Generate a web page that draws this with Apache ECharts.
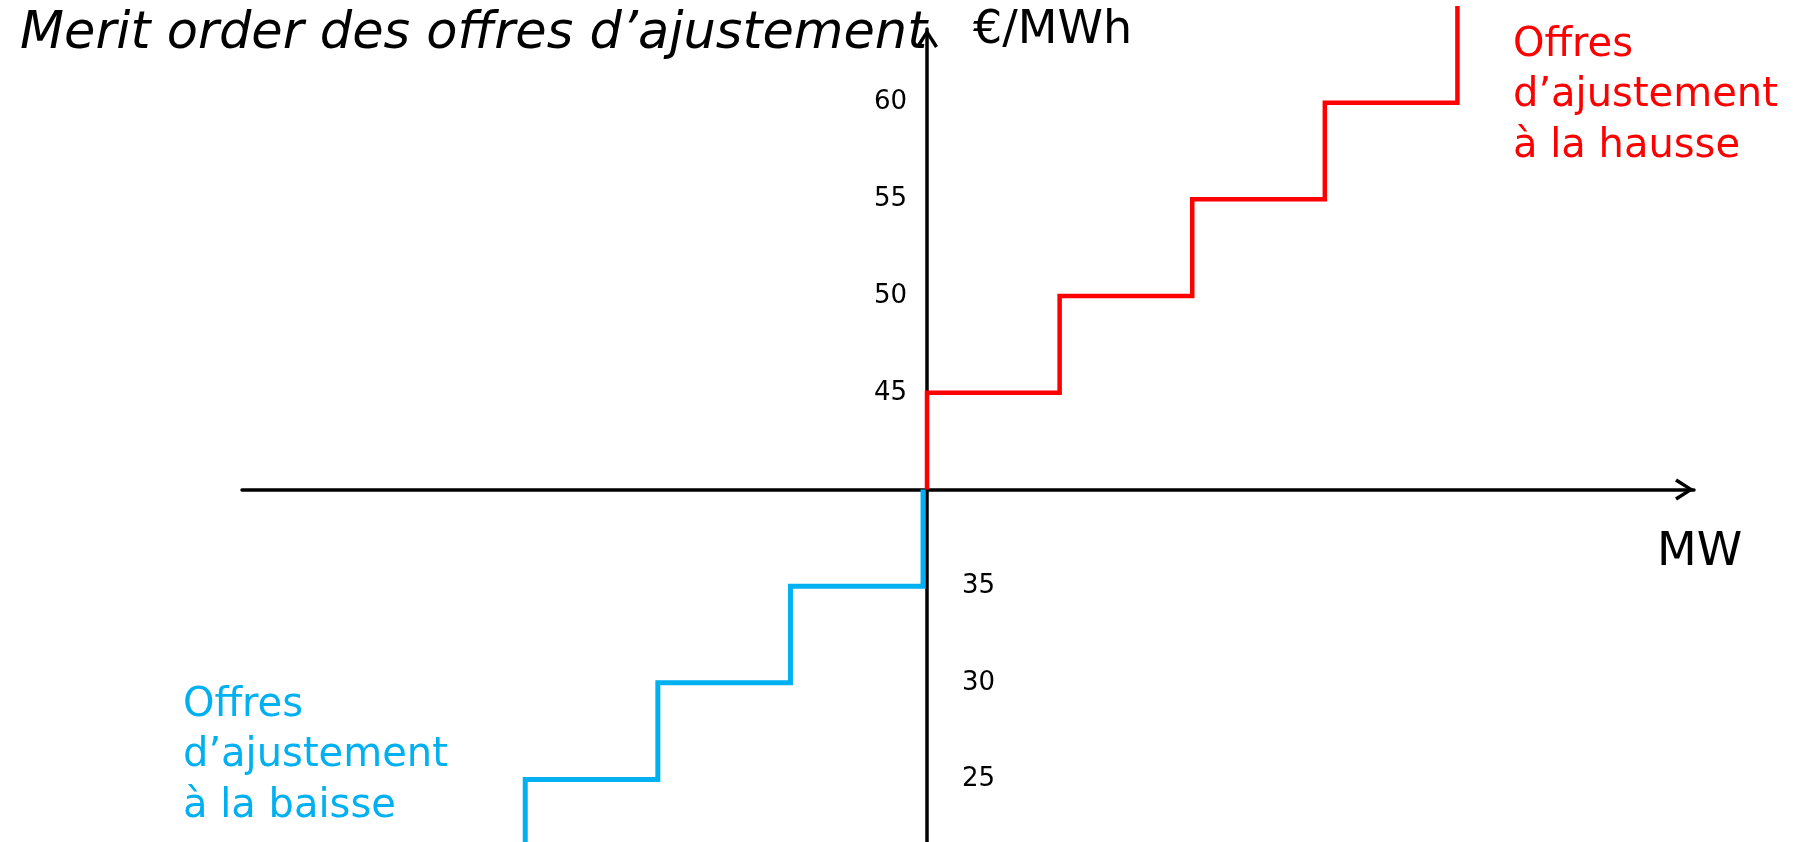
<!DOCTYPE html>
<html>
<head>
<meta charset="utf-8">
<script src="https://cdn.jsdelivr.net/npm/echarts@6/dist/echarts.min.js"></script>
<style>
html,body{margin:0;padding:0;background:#fff;}
#chart{width:1805px;height:842px;}
</style>
</head>
<body>
<div id="chart"></div>
<script>
// Offres d'ajustement à la hausse (step vertices: MW, €/MWh)
const hausseMW   = [0, 0, 1, 1, 2, 2, 3, 3, 4, 4];
const haussePrix = [40, 45, 45, 50, 50, 55, 55, 60, 60, 65];
// Offres d'ajustement à la baisse
const baisseMW   = [-0.03, -0.03, -1.03, -1.03, -2.03, -2.03, -3.03, -3.03];
const baissePrix = [40, 35, 35, 30, 30, 25, 25, 21];
// Tick labels
const ticksHausse = [45, 50, 55, 60];
const ticksBaisse = [25, 30, 35];

const FONT = '"DejaVu Sans", sans-serif';
const RED = '#FF0000';
const BLUE = '#00B0F0';
const chevron = 'path://M0,17 L11,0 L22,17 L19,19 L11,6 L3,19 Z';
const Y_MIN = 21.77, Y_MAX = 63.81;
const X_MIN = -5.166, X_MAX = 5.784;

const zip = (xs, ys) => xs.map((x, i) => [x, ys[i]]);
const hidden = {axisLine: {show: false}, axisTick: {show: false}, axisLabel: {show: false}, splitLine: {show: false}};

const chart = echarts.init(document.getElementById('chart'), null, {renderer: 'canvas'});
chart.setOption({
  animation: false,
  backgroundColor: '#fff',
  title: {
    text: 'Merit order des offres d’ajustement',
    left: 20, top: 9, padding: 0,
    textStyle: {fontFamily: FONT, fontSize: 51, fontStyle: 'italic', fontWeight: 'normal', color: '#000'}
  },
  grid: [
    {left: 242, right: 111, top: 29, bottom: 0, containLabel: false, outerBoundsMode: 'none'},
    {left: 927, right: 111, top: 29, bottom: 0, containLabel: false, outerBoundsMode: 'none'}
  ],
  xAxis: [{
    gridIndex: 0, type: 'value', min: X_MIN, max: X_MAX,
    position: 'bottom', offset: -352.5,
    axisLine: {show: true, onZero: false, symbol: ['none', chevron], symbolSize: [22, 19], symbolOffset: [0, -9.5],
      lineStyle: {color: '#000', width: 3.5}},
    axisTick: {show: false}, axisLabel: {show: false}, splitLine: {show: false}
  }, Object.assign({gridIndex: 1, type: 'value', min: 0, max: 1}, hidden)],
  yAxis: [
    Object.assign({gridIndex: 0, type: 'value', min: Y_MIN, max: Y_MAX}, hidden),
    {
      gridIndex: 1, type: 'value', min: Y_MIN, max: Y_MAX, position: 'left',
      name: '€/MWh', nameLocation: 'end', nameGap: -2,
      nameTextStyle: {fontFamily: FONT, fontSize: 46, color: '#000', align: 'left', verticalAlign: 'middle', padding: [0, 0, 0, 46]},
      axisLine: {show: true, onZero: false, symbol: ['none', chevron], symbolSize: [22, 19], symbolOffset: [0, -9.5],
        lineStyle: {color: '#000', width: 3.5}},
      axisTick: {show: false}, splitLine: {show: false},
      axisLabel: {show: true, customValues: ticksHausse, margin: 20, fontFamily: FONT, fontSize: 26, color: '#000'}
    }, {
      gridIndex: 1, type: 'value', min: Y_MIN, max: Y_MAX, position: 'left',
      axisLine: {show: false, onZero: false},
      axisTick: {show: false}, splitLine: {show: false},
      axisLabel: {show: true, inside: true, customValues: ticksBaisse, margin: 35, fontFamily: FONT, fontSize: 26, color: '#000'}
    }
  ],
  series: [{
    name: 'Offres d’ajustement à la hausse', type: 'line', clip: false,
    xAxisIndex: 0, yAxisIndex: 0,
    data: zip(hausseMW, haussePrix), symbol: 'none',
    lineStyle: {color: RED, width: 4.5, join: 'miter', cap: 'butt'}, z: 5
  }, {
    name: 'Offres d’ajustement à la baisse', type: 'line', clip: false,
    xAxisIndex: 0, yAxisIndex: 0,
    data: zip(baisseMW, baissePrix), symbol: 'none',
    lineStyle: {color: BLUE, width: 5, join: 'miter', cap: 'butt'}, z: 4
  }],
  graphic: [{
    type: 'text', left: 1657, top: 530, silent: true,
    style: {text: 'MW', font: '46px ' + FONT, fill: '#000'}
  }, {
    type: 'text', left: 1513, top: 20, silent: true,
    style: {text: 'Offres\nd’ajustement\nà la hausse', font: '40px ' + FONT, lineHeight: 50.5, fill: RED}
  }, {
    type: 'text', left: 183, top: 680, silent: true,
    style: {text: 'Offres\nd’ajustement\nà la baisse', font: '40px ' + FONT, lineHeight: 50.5, fill: BLUE}
  }]
});
</script>
</body>
</html>
